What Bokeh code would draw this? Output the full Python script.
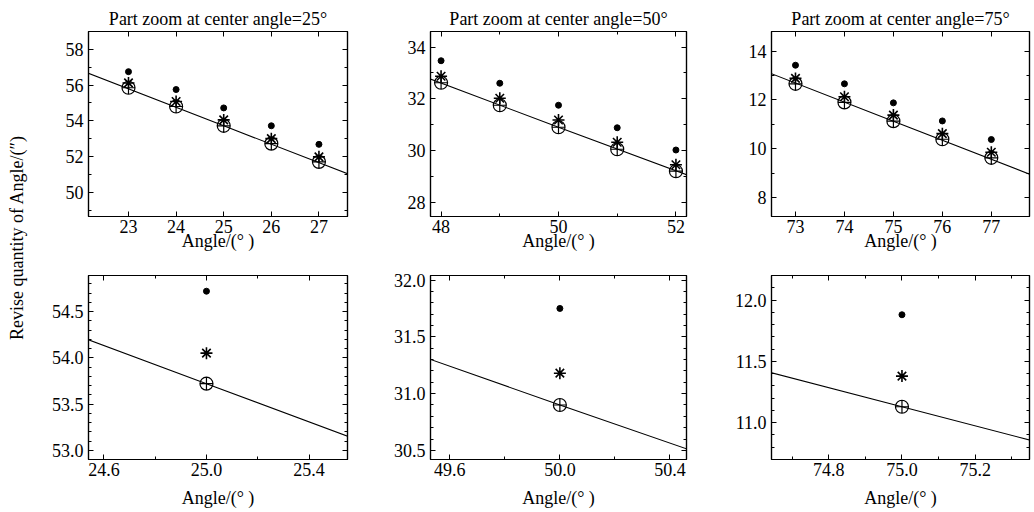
import math
from bokeh.plotting import figure
from bokeh.layouts import row, column
from bokeh.models import FixedTicker, LinearAxis, Range1d, Label, PrintfTickFormatter
from bokeh.embed import file_html
from bokeh.resources import INLINE

FONT = "Liberation Serif"

# ---------------- data ----------------
# centre angle 25
angles_25 = [23, 24, 25, 26, 27]
circle_25 = [55.85, 54.80, 53.72, 52.72, 51.70]
star_25 = [56.12, 55.08, 54.05, 53.00, 51.98]
dot_25 = [56.75, 55.75, 54.72, 53.72, 52.68]
line_x_25 = [22.0, 25.0, 28.0]
line_y_25 = [56.82, 53.72, 50.62]

# centre angle 50
angles_50 = [48, 49, 50, 51, 52]
circle_50 = [32.62, 31.75, 30.90, 30.05, 29.20]
star_50 = [32.87, 32.02, 31.18, 30.32, 29.45]
dot_50 = [33.47, 32.60, 31.75, 30.88, 30.02]
line_x_50 = [47.0, 50.0, 53.0]
line_y_50 = [33.46, 30.90, 28.38]

# centre angle 75
angles_75 = [73, 74, 75, 76, 77]
circle_75 = [12.66, 11.90, 11.13, 10.39, 9.63]
star_75 = [12.88, 12.13, 11.38, 10.62, 9.86]
dot_75 = [13.42, 12.66, 11.88, 11.14, 10.38]
line_x_75 = [72.0, 75.0, 78.0]
line_y_75 = [13.47, 11.13, 8.79]

# tick labels
xt_top_25 = [23, 24, 25, 26, 27]
yt_top_25 = [50, 52, 54, 56, 58]
ym_top_25 = [49, 51, 53, 55, 57]
xt_top_50 = [48, 50, 52]
xm_top_50 = [49, 51]
yt_top_50 = [28, 30, 32, 34]
ym_top_50 = [29, 31, 33]
xt_top_75 = [73, 74, 75, 76, 77]
yt_top_75 = [8, 10, 12, 14]
ym_top_75 = [9, 11, 13]

xt_bot_25 = [24.6, 25.0, 25.4]
xm_bot_25 = [24.8, 25.2]
yt_bot_25 = [53.0, 53.5, 54.0, 54.5]
ym_bot_25 = [52.9, 53.1, 53.2, 53.3, 53.4, 53.6, 53.7, 53.8, 53.9, 54.1, 54.2, 54.3, 54.4, 54.6, 54.7, 54.8]
xt_bot_50 = [49.6, 50.0, 50.4]
xm_bot_50 = [49.8, 50.2]
yt_bot_50 = [30.5, 31.0, 31.5, 32.0]
ym_bot_50 = [30.6, 30.7, 30.8, 30.9, 31.1, 31.2, 31.3, 31.4, 31.6, 31.7, 31.8, 31.9]
xt_bot_75 = [74.8, 75.0, 75.2]
xm_bot_75 = [74.7, 74.9, 75.1, 75.3]
yt_bot_75 = [11.0, 11.5, 12.0]
ym_bot_75 = [10.8, 10.9, 11.1, 11.2, 11.3, 11.4, 11.6, 11.7, 11.8, 11.9, 12.1]

titles = ["Part zoom at center angle=25\u00b0",
          "Part zoom at center angle=50\u00b0",
          "Part zoom at center angle=75\u00b0"]
x_label = "Angle/(\u00b0 )"
y_label = "Revise quantity of Angle/(\u2033)"


def style_axis(ax, ticks, minor, fmt, show, standoff):
    ax.ticker = FixedTicker(ticks=ticks, minor_ticks=minor)
    ax.formatter = PrintfTickFormatter(format=fmt)
    ax.major_tick_in = 5
    ax.major_tick_out = 0
    ax.minor_tick_in = 3
    ax.minor_tick_out = 0
    ax.axis_line_color = "black"
    ax.axis_line_width = 1.2
    ax.major_tick_line_color = "black"
    ax.minor_tick_line_color = "black"
    ax.major_label_text_font = FONT
    ax.major_label_text_color = "black"
    ax.major_label_text_font_size = "18px"
    ax.major_label_standoff = standoff
    if not show:
        ax.major_label_text_color = None
        ax.major_label_text_font_size = "0px"
        ax.major_label_standoff = 0


def panel(width, height, bl, br, bt, bb, xr, yr, xt, xm, yt, ym, fmt,
          ax_x, circ, star, dot, lx, ly, title=None, lab_standoff=0):
    p = figure(width=width, height=height, min_border_left=bl, min_border_right=br,
               min_border_top=bt, min_border_bottom=bb,
               x_range=Range1d(*xr), y_range=Range1d(*yr),
               output_backend="svg", toolbar_location=None)
    p.grid.grid_line_color = None
    p.outline_line_color = "black"
    p.outline_line_width = 1.2
    p.background_fill_color = "white"
    p.border_fill_color = "white"
    style_axis(p.xaxis[0], xt, xm, fmt, True, 3)
    style_axis(p.yaxis[0], yt, ym, fmt, True, 5)
    p.xaxis.axis_label = x_label
    p.xaxis.axis_label_text_font = FONT
    p.xaxis.axis_label_text_font_size = "18px"
    p.xaxis.axis_label_text_font_style = "normal"
    p.xaxis.axis_label_text_color = "black"
    p.xaxis.axis_label_standoff = lab_standoff
    top = LinearAxis()
    style_axis(top, xt, xm, fmt, False, 0)
    p.add_layout(top, "above")
    right = LinearAxis()
    style_axis(right, yt, ym, fmt, False, 0)
    p.add_layout(right, "right")
    if title:
        p.title.text = title
        p.title.align = "center"
        p.title.text_font = FONT
        p.title.text_font_size = "18px"
        p.title.text_font_style = "normal"
        p.title.text_color = "black"
        p.title.standoff = 5
    p.line(lx, ly, line_color="black", line_width=1.1)
    p.scatter(ax_x, circ, marker="circle_cross", size=13, fill_color=None,
              line_color="black", line_width=1.2)
    p.scatter(ax_x, star, marker="asterisk", size=12, line_color="black", line_width=1.6)
    p.scatter(ax_x, dot, marker="circle", size=6, fill_color="black", line_color="black")
    return p


TH, BH = 253, 257

f1 = panel(330, TH, 50, 21, 31, 36, (22.16, 27.6), (48.64, 59.0),
           xt_top_25, [], yt_top_25, ym_top_25, "%d",
           angles_25, circle_25, star_25, dot_25, line_x_25, line_y_25, titles[0], -5)
f2 = panel(340, TH, 62, 22, 31, 36, (47.82, 52.18), (27.45, 34.6),
           xt_top_50, xm_top_50, yt_top_50, ym_top_50, "%d",
           angles_50, circle_50, star_50, dot_50, line_x_50, line_y_50, titles[1], -5)
f3 = panel(325, TH, 63, 4, 31, 36, (72.51, 77.78), (7.23, 14.8),
           xt_top_75, [], yt_top_75, ym_top_75, "%d",
           angles_75, circle_75, star_75, dot_75, line_x_75, line_y_75, titles[2], -5)

f4 = panel(330, BH, 50, 21, 22, 50, (24.54, 25.55), (52.9, 54.89),
           xt_bot_25, xm_bot_25, yt_bot_25, ym_bot_25, "%.1f",
           angles_25, circle_25, star_25, dot_25, line_x_25, line_y_25, None, 9)
f5 = panel(340, BH, 62, 22, 22, 50, (49.53, 50.46), (30.42, 32.04),
           xt_bot_50, xm_bot_50, yt_bot_50, ym_bot_50, "%.1f",
           angles_50, circle_50, star_50, dot_50, line_x_50, line_y_50, None, 9)
f6 = panel(325, BH, 63, 4, 22, 50, (74.644, 75.348), (10.70, 12.2),
           xt_bot_75, xm_bot_75, yt_bot_75, ym_bot_75, "%.1f",
           angles_75, circle_75, star_75, dot_75, line_x_75, line_y_75, None, 9)

lf = figure(width=38, height=TH + BH, min_border=0, x_axis_type=None, y_axis_type=None,
            x_range=Range1d(0, 1), y_range=Range1d(0, 1),
            output_backend="svg", toolbar_location=None)
lf.outline_line_color = None
lf.add_layout(Label(x=16, y=TH + BH - 237, x_units="screen", y_units="screen",
                    text=y_label, angle=math.pi / 2, text_align="center",
                    text_baseline="middle", text_font=FONT, text_font_size="18px",
                    text_color="black"))

layout = row(lf, column(row(f1, f2, f3), row(f4, f5, f6)))

with open("out.html", "w") as fh:
    fh.write(file_html(layout, INLINE))
